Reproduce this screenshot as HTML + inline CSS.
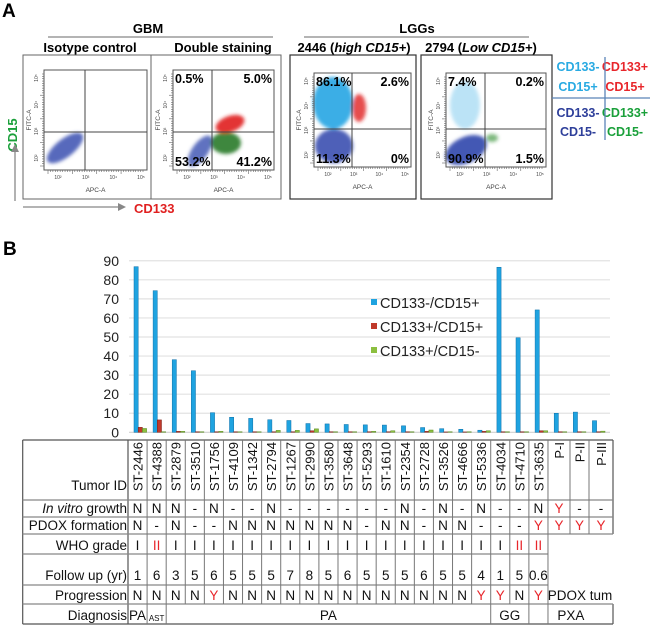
<!DOCTYPE html>
<html><head><meta charset="utf-8">
<style>
html,body{margin:0;padding:0;background:#fff;}
svg{display:block;font-family:"Liberation Sans",Arial,sans-serif;}
</style></head>
<body>
<svg id="fig" width="650" height="630" viewBox="0 0 650 630" xmlns="http://www.w3.org/2000/svg">
<defs>
<filter id="blur" x="-50%" y="-50%" width="200%" height="200%"><feGaussianBlur stdDeviation="1.8"/></filter>
</defs>
<text x="2" y="17" font-size="19" font-weight="bold">A</text>
<text x="3" y="255" font-size="19" font-weight="bold">B</text>

<text x="148" y="33" font-size="13" font-weight="bold" text-anchor="middle">GBM</text>
<line x1="48" y1="37" x2="273" y2="37" stroke="#888" stroke-width="1.2"/>
<text x="417" y="33" font-size="13" font-weight="bold" text-anchor="middle">LGGs</text>
<line x1="304" y1="37" x2="529" y2="37" stroke="#888" stroke-width="1.2"/>
<text x="90" y="52" font-size="13" font-weight="bold" text-anchor="middle">Isotype control</text>
<text x="223" y="52" font-size="13" font-weight="bold" text-anchor="middle">Double staining</text>
<text x="354" y="52" font-size="13" font-weight="bold" text-anchor="middle">2446 (<tspan font-style="italic">high CD15+</tspan>)</text>
<text x="481" y="52" font-size="13" font-weight="bold" text-anchor="middle">2794 (<tspan font-style="italic">Low CD15+</tspan>)</text>

<rect x="23" y="55" width="258" height="144" fill="none" stroke="#666" stroke-width="1"/>
<line x1="151" y1="55" x2="151" y2="199" stroke="#666"/>
<rect x="290" y="55" width="126" height="144" fill="none" stroke="#333" stroke-width="1.2"/>
<rect x="421" y="55" width="131" height="144" fill="none" stroke="#333" stroke-width="1.2"/>

<g filter="url(#blur)">
<ellipse cx="65" cy="148" rx="22" ry="9" transform="rotate(-38 65 148)" fill="#3a4fb0" opacity="0.85"/>
</g>
<g filter="url(#blur)">
<ellipse cx="200" cy="151" rx="18" ry="8" transform="rotate(-55 200 151)" fill="#3a4fb0" opacity="0.8"/>
<ellipse cx="226" cy="143" rx="15" ry="11" fill="#2a7a2a" opacity="0.9"/>
<ellipse cx="230" cy="124" rx="15" ry="8" transform="rotate(-20 230 124)" fill="#e02020" opacity="0.9"/>
</g>
<g filter="url(#blur)">
<ellipse cx="333" cy="103" rx="20" ry="26" fill="#3aaee6"/>
<ellipse cx="334" cy="146" rx="19" ry="17" fill="#3a4fb0" opacity="0.9"/>
<ellipse cx="359" cy="108" rx="7" ry="14" fill="#e02020" opacity="0.8"/>
</g>
<g filter="url(#blur)">
<ellipse cx="465" cy="105" rx="15" ry="24" fill="#3aaee6" opacity="0.35"/>
<ellipse cx="466" cy="150" rx="22" ry="13" transform="rotate(-25 466 150)" fill="#3a4fb0" opacity="0.95"/>
<ellipse cx="492" cy="138" rx="6" ry="4" fill="#2a8a2a" opacity="0.6"/>
</g>
<g id="flowplots"></g>

<text x="17" y="135" font-size="13" font-weight="bold" fill="#1aa03a" text-anchor="middle" transform="rotate(-90 17 135)">CD15</text>
<line x1="15" y1="201" x2="15" y2="150" stroke="#888" stroke-width="1.3"/>
<polygon points="11,152 19,152 15,144" fill="#888"/>
<line x1="23" y1="207" x2="120" y2="207" stroke="#888" stroke-width="1.3"/>
<polygon points="118,203 118,211 126,207" fill="#888"/>
<text x="134" y="213" font-size="13" font-weight="bold" fill="#e02020">CD133</text>

<g font-size="12.5" font-weight="bold" text-anchor="middle">
<text x="578" y="71" fill="#29aae2">CD133-</text>
<text x="578" y="91" fill="#29aae2">CD15+</text>
<text x="625" y="71" fill="#e8262b">CD133+</text>
<text x="625" y="91" fill="#e8262b">CD15+</text>
<text x="578" y="117" fill="#2e3f9a">CD133-</text>
<text x="578" y="136" fill="#2e3f9a">CD15-</text>
<text x="625" y="117" fill="#1aa03a">CD133+</text>
<text x="625" y="136" fill="#1aa03a">CD15-</text>
<line x1="605" y1="57" x2="605" y2="140" stroke="#5b84b8" stroke-width="1.3"/>
<line x1="552" y1="98" x2="650" y2="98" stroke="#5b84b8" stroke-width="1.3"/>
</g>

<g id="chart"></g>
<g id="table"></g>
</svg>

<script>
const categories = ["ST-2446","ST-4388","ST-2879","ST-3510","ST-1756","ST-4109","ST-1342","ST-2794","ST-1267","ST-2990","ST-3580","ST-3648","ST-5293","ST-1610","ST-2354","ST-2728","ST-3526","ST-4666","ST-5336","ST-4034","ST-4710","ST-3635","P-I","P-II","P-III"];
const cd133negCd15pos = [86.9,74.3,38.1,32.3,10.3,7.9,7.3,6.6,6.2,4.6,4.4,4.1,3.9,3.8,3.4,2.5,1.9,1.6,1.1,86.6,49.6,64.2,10.0,10.6,6.1];
const cd133posCd15pos = [2.6,6.5,0.5,0.3,0.3,0.3,0.3,0.3,0.3,0.8,0.3,0.3,0.3,0.3,0.3,0.5,0.2,0.2,0.5,0.3,0.3,0.8,0.3,0.3,0.3];
const cd133posCd15neg = [2.0,0.3,0.5,0.3,0.5,0.3,0.3,1.0,1.0,1.8,0.3,0.3,0.5,0.8,0.3,1.2,0.3,0.3,0.8,0.3,0.3,0.8,0.3,0.3,0.6];
const yTicks = [0,10,20,30,40,50,60,70,80,90];
const seriesNames = ["CD133-/CD15+","CD133+/CD15+","CD133+/CD15-"];

const inVitro = ["N","N","N","-","N","-","-","N","-","-","-","-","-","-","N","-","N","-","N","-","-","N","Y","-","-"];
const pdox = ["N","-","N","-","-","N","N","N","N","N","N","N","-","N","N","-","N","N","-","-","-","Y","Y","Y","Y"];
const who = ["I","II","I","I","I","I","I","I","I","I","I","I","I","I","I","I","I","I","I","I","II","II"];
const followUp = ["1","6","3","5","6","5","5","5","7","8","5","6","5","5","5","6","5","5","4","1","5","0.6"];
const progression = ["N","N","N","N","Y","N","N","N","N","N","N","N","N","N","N","N","N","N","Y","Y","N","Y"];

const NS = "http://www.w3.org/2000/svg";
function mk(tag, attrs, parent){const e=document.createElementNS(NS,tag);for(const k in attrs)e.setAttribute(k,attrs[k]);parent.appendChild(e);return e;}

const fp = document.getElementById('flowplots');
const plots = [
 {x0:44,x1:147,y0:70,y1:170,qx:85,qy:132,labels:null},
 {x0:173,x1:274,y0:70,y1:170,qx:212,qy:132,labels:["0.5%","5.0%","53.2%","41.2%"]},
 {x0:314,x1:411,y0:73,y1:167,qx:352,qy:129,labels:["86.1%","2.6%","11.3%","0%"]},
 {x0:446,x1:546,y0:73,y1:167,qx:485,qy:129,labels:["7.4%","0.2%","90.9%","1.5%"]}
];
plots.forEach((p,i)=>{
 const g=mk('g',{},fp);
 
 
 mk('rect',{x:p.x0,y:p.y0,width:p.x1-p.x0,height:p.y1-p.y0,fill:'none',stroke:'#555','stroke-width':1},g);
 mk('line',{x1:p.qx,y1:p.y0,x2:p.qx,y2:p.y1,stroke:'#444','stroke-width':1},g);
 mk('line',{x1:p.x0,y1:p.qy,x2:p.x1,y2:p.qy,stroke:'#444','stroke-width':1},g);
 const w=p.x1-p.x0, h=p.y1-p.y0;
 for(let k=0;k<40;k++){
  const tx=p.x0+4+k*(w-8)/39; mk('line',{x1:tx,y1:p.y1,x2:tx,y2:p.y1+(k%10==0?4:2),stroke:'#666','stroke-width':0.6},g);
  const ty=p.y1-4-k*(h-8)/39; mk('line',{x1:p.x0,y1:ty,x2:p.x0-(k%10==0?4:2),y2:ty,stroke:'#666','stroke-width':0.6},g);
 }
 ["2","3","4","5"].forEach((e,k)=>{
  const t=mk('text',{x:p.x0+14+k*(w-20)/3,y:p.y1+9,'font-size':5,'text-anchor':'middle',fill:'#444'},g); t.textContent='10'+['²','³','⁴','⁵'][k];
  const t2=mk('text',{x:p.x0-6,y:p.y1-12-k*(h-20)/3,'font-size':5,'text-anchor':'middle',fill:'#444',transform:`rotate(-90 ${p.x0-6} ${p.y1-12-k*(h-20)/3})`},g); t2.textContent='10'+['²','³','⁴','⁵'][k];
 });
 const ax=mk('text',{x:(p.x0+p.x1)/2,y:p.y1+22,'font-size':6.5,'text-anchor':'middle',fill:'#444'},g); ax.textContent='APC-A';
 const ay=mk('text',{x:p.x0-13,y:(p.y0+p.y1)/2,'font-size':6.5,'text-anchor':'middle',fill:'#444',transform:`rotate(-90 ${p.x0-13} ${(p.y0+p.y1)/2})`},g); ay.textContent='FITC-A';
 if(p.labels){
  const L=[[p.x0+2,p.y0+13],[p.x1-2,p.y0+13],[p.x0+2,p.y1-4],[p.x1-2,p.y1-4]];
  L.forEach((l,j)=>{
   const t=mk('text',{x:l[0],y:l[1],'font-size':12.5,'font-weight':'bold','text-anchor':(j%2?'end':'start')},g);
   
   
   t.textContent=p.labels[j];
  });
 }
});

const ch=document.getElementById('chart');
const yScale=v=>432.3-v*1.906;
const xGroup=i=>134+i*19.1;
const barW=4.2;
yTicks.forEach(t=>{
 const gl=mk('line',{x1:129,x2:610,y1:yScale(t),y2:yScale(t),stroke:t===0?'#d0d0d0':'#e2e2e2','stroke-width':1.2},ch);
 
 
 const tl=mk('text',{x:119,y:yScale(t)+5,'font-size':14,'text-anchor':'end',fill:'#222'},ch);
 
 
 tl.textContent=t;
});
const colors=["#1fa3e0","#c0392b","#8cbf3f"];
const edges=["#0d6fa8","#7a1f17","#5a8a22"];
[cd133negCd15pos,cd133posCd15pos,cd133posCd15neg].forEach((s,si)=>{
 s.forEach((v,i)=>{
  const y=yScale(v);
  const b=mk('rect',{x:xGroup(i)+si*barW,y:y,width:barW,height:yScale(0)-y,fill:colors[si],stroke:edges[si],'stroke-width':0.5},ch);
  
  
 });
});
seriesNames.forEach((n,k)=>{
 const sq=mk('rect',{x:371,y:299+k*24,width:6,height:6,fill:colors[k]},ch);
 
 
 const t=mk('text',{x:380,y:308+k*24,'font-size':14.5,fill:'#222'},ch);
 
 
 t.textContent=n;
});

const tb=document.getElementById('table');
const colX=[]; for(let i=0;i<=22;i++) colX.push(128+i*19.09); colX.push(570,589,613);
const rowY=[440,500,517,534,554,585,604,624];
const L=22.7, R=613;
const line=(x1,y1,x2,y2,c,w)=>mk('line',{x1,y1,x2,y2,stroke:c||'#777','stroke-width':w||1},tb);
line(L,rowY[0],R,rowY[0],'#555',1.2);
line(L,rowY[7],R,rowY[7],'#555',1.2);
line(L,rowY[0],L,rowY[7],'#555',1.2);
line(128,rowY[0],128,rowY[7],'#555',1.2);
line(R,rowY[0],R,rowY[3],'#555',1.2);
line(R,rowY[6],R,rowY[7],'#555',1.2);
line(L,rowY[1],R,rowY[1],'#888',1.3);
line(L,rowY[2],R,rowY[2],'#888',1.3);
line(L,rowY[3],R,rowY[3],'#888',1.3);
line(L,rowY[4],548,rowY[4],'#888',1.3);
line(L,rowY[5],548,rowY[5],'#888',1.3);
line(L,rowY[6],R,rowY[6],'#888',1.3);
for(let i=1;i<25;i++){
 const x=colX[i];
 if(i<=22) line(x,rowY[0],x,i==22?rowY[7]:rowY[6],'#777');
 else line(x,rowY[0],x,rowY[3],'#777');
}
[[1],[2],[19],[21]].forEach(d=>line(colX[d[0]],rowY[6],colX[d[0]],rowY[7],'#777'));

function txt(x,y,s,opts){const t=mk('text',Object.assign({x,y,'font-size':13.5,fill:'#111'},opts||{}),tb);t.textContent=s;return t;}
let t=txt(127,490,"Tumor ID",{'text-anchor':'end'});  
t=mk('text',{x:127,y:513,'font-size':13.5,'text-anchor':'end',fill:'#111'},tb);
t.innerHTML='<tspan font-style="italic">In vitro</tspan> growth';
 
[["PDOX formation",530,'pdox'],["WHO grade",550,'who'],["Follow up (yr)",580,'follow-up'],["Progression",600,'progression'],["Diagnosis",620,'diagnosis']].forEach(r=>{
 const e=txt(127,r[1],r[0],{'text-anchor':'end'});
 
 
});
const cx=i=>(colX[i]+colX[i+1])/2;
categories.forEach((c,i)=>{
 const x=cx(i)+5, y=442;
 const e=txt(x,y,c,{'text-anchor':'end',transform:`rotate(-90 ${x} ${y})`,'font-size':13});
 
 
});
const red=v=>(v==='Y'||v==='II')?'#e8262b':'#111';
function fillRow(arr,y){arr.forEach((v,i)=>{const e=txt(cx(i),y,v,{'text-anchor':'middle',fill:red(v)});});}
fillRow(inVitro,513); fillRow(pdox,530); fillRow(who,550); fillRow(followUp,580); fillRow(progression,600);
t=txt(580,600,"PDOX tum",{'text-anchor':'middle'});  
[["PA",cx(0),13.5],["AST",cx(1),8],["PA",(colX[2]+colX[19])/2,13.5],["GG",(colX[19]+colX[21])/2,13.5],["PXA",(colX[21]+R)/2,13.5]].forEach(d=>{
 const e=txt(d[1],d[2]<10?621:620,d[0],{'text-anchor':'middle','font-size':d[2]});
 
 
});
</script>
</body></html>
